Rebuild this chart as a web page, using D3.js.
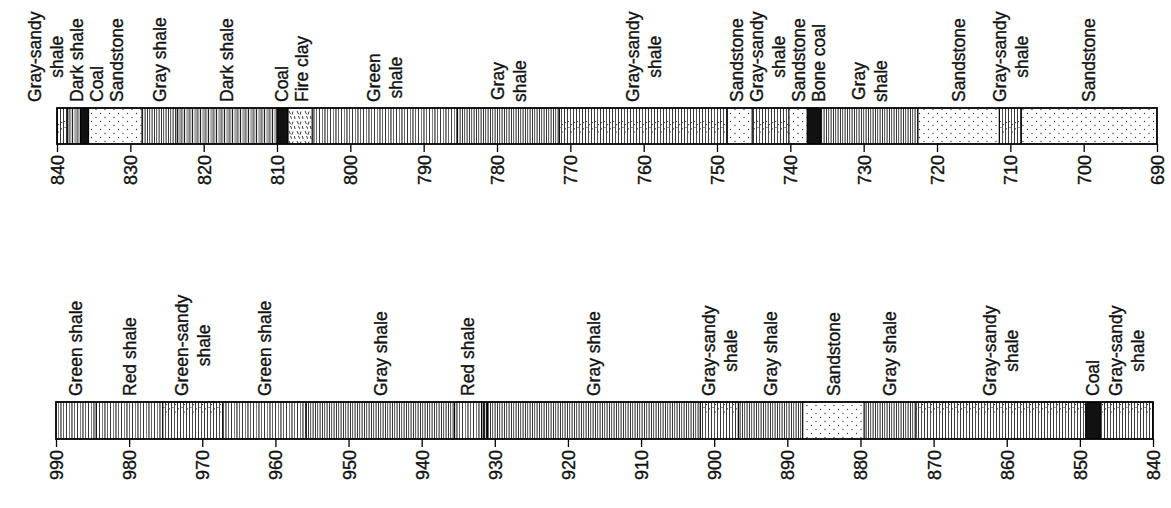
<!DOCTYPE html>
<html>
<head>
<meta charset="utf-8">
<script src="https://cdn.jsdelivr.net/npm/d3@7"></script>
<style>
  body { margin: 0; background: #fff; }
  text { font-family: "Liberation Sans", Arial, sans-serif; fill: #111; stroke: #111; stroke-width: 0.35px; }
</style>
</head>
<body>
<script>
// layer boundaries (depth, ft) and rock names, upper section 840 -> 690
let topBounds = [840, 838.6, 836.8, 835.7, 828.4, 823.6, 810, 808.5, 805.2, 785.4, 771.5,
  748.6, 745.2, 740.2, 737.7, 735.8, 722.6, 711.5, 708.5, 690];
let topRocks = ["Gray-sandy|shale", "Dark shale", "Coal", "Sandstone", "Gray shale", "Dark shale",
  "Coal", "Fire clay", "Green|shale", "Gray|shale", "Gray-sandy|shale", "Sandstone",
  "Gray-sandy|shale", "Sandstone", "Bone coal", "Gray|shale", "Sandstone", "Gray-sandy|shale", "Sandstone"];
let topTicks = d3.range(840, 689, -10);

// lower section 990 -> 840
let botBounds = [990, 984.5, 975.4, 967.2, 955.8, 935.5, 931.8, 931.0, 901.9, 896.7, 887.9,
  879.5, 872.4, 849.2, 847.2, 840];
let botRocks = ["Green shale", "Red shale", "Green-sandy|shale", "Green shale", "Gray shale",
  "Red shale", "", "Gray shale", "Gray-sandy|shale", "Gray shale", "Sandstone", "Gray shale",
  "Gray-sandy|shale", "Coal", "Gray-sandy|shale"];
let botTicks = d3.range(990, 839, -10);

let width = 1171;
let height = 508;
let lineGap = 22;   // spacing of lines in a two line label
let minGap = 20;    // closest two label columns may sit

let svg = d3.select("body").append("svg")
  .attr("width", width)
  .attr("height", height);

let defs = svg.append("defs");

// hatch patterns, one per rock kind
function linePattern(id, w, lines) {
  let p = defs.append("pattern").attr("id", id)
    .attr("patternUnits", "userSpaceOnUse")
    .attr("width", w).attr("height", 40);
  p.append("rect").attr("width", w).attr("height", 40).attr("fill", "#fff");
  lines.forEach(function(l) {
    p.append("rect").attr("x", l[0]).attr("y", 0).attr("width", l[1]).attr("height", 40).attr("fill", "#222");
  });
  return p;
}
linePattern("shale", 11, [[0, 0.9], [3.1, 0.6], [5.4, 1.1], [8.3, 0.7]]);
linePattern("grayshale", 7, [[0, 0.9], [2.3, 0.8], [4.6, 1]]);
linePattern("darkshale", 8, [[0, 1.1], [2.7, 0.7], [4.6, 1], [6.6, 0.6]]);
linePattern("band", 3, [[0, 2.2]]);

let sandy = linePattern("sandyshale", 9, [[0, 0.9], [3, 0.8], [6.1, 0.9]]);
[[1.6, 1.5], [4.6, 4.6], [7.6, 2.6], [2, 7.5], [7.5, 8.8], [4.5, 12]].forEach(function(d) {
  sandy.append("circle").attr("cx", d[0]).attr("cy", d[1]).attr("r", 0.6).attr("fill", "#222");
});

let sand = defs.append("pattern").attr("id", "sand")
  .attr("patternUnits", "userSpaceOnUse").attr("width", 9).attr("height", 8);
sand.append("rect").attr("width", 9).attr("height", 8).attr("fill", "#fff");
[[1.5, 1.5], [6, 5.5]].forEach(function(d) {
  sand.append("circle").attr("cx", d[0]).attr("cy", d[1]).attr("r", 0.65).attr("fill", "#333");
});

let clay = defs.append("pattern").attr("id", "clay")
  .attr("patternUnits", "userSpaceOnUse").attr("width", 8).attr("height", 10);
clay.append("rect").attr("width", 8).attr("height", 10).attr("fill", "#fff");
clay.append("path")
  .attr("d", "M1,1 l1.5,3.2 M5,1.5 l-1,3.2 M2.5,6 l1.2,2.8 M6.3,6 l0.8,3")
  .attr("stroke", "#222").attr("stroke-width", 0.9).attr("fill", "none");

function kindOf(name) {
  if (name === "") return "band";
  if (name.indexOf("oal") >= 0) return "coal";
  if (name === "Sandstone") return "sand";
  if (name === "Fire clay") return "clay";
  if (name.indexOf("sandy") >= 0) return "sandyshale";
  if (name === "Dark shale") return "darkshale";
  if (name.indexOf("Gray") === 0) return "grayshale";
  return "shale";
}

// place label columns near their layer centre, pushing apart where they crowd
function spread(items) {
  let off = 0;
  items.forEach(function(d, i) {
    if (i > 0) off += items[i - 1].h + d.h + minGap;
    d.off = off;
    d.v = d.c - off;
  });
  let blocks = [];
  items.forEach(function(d) {
    blocks.push({ sum: d.v, n: 1, items: [d] });
    while (blocks.length > 1 &&
      blocks[blocks.length - 2].sum / blocks[blocks.length - 2].n > blocks[blocks.length - 1].sum / blocks[blocks.length - 1].n) {
      let b = blocks.pop();
      let a = blocks[blocks.length - 1];
      a.sum += b.sum; a.n += b.n; a.items = a.items.concat(b.items);
    }
  });
  blocks.forEach(function(b) { b.items.forEach(function(d) { d.pos = b.sum / b.n + d.off; }); });
}

function drawSection(bounds, rocks, ticks, x0, x1, barY, barH) {
  let x = d3.scaleLinear().domain([bounds[0], bounds[bounds.length - 1]]).range([x0, x1]);
  let layers = rocks.map(function(r, i) {
    return { name: r, top: bounds[i], base: bounds[i + 1], kind: kindOf(r.replace("|", " ")) };
  });

  let g = svg.append("g");

  g.selectAll(".layer")
    .data(layers)
    .enter().append("rect")
      .attr("class", "layer")
      .attr("x", function(d) { return x(d.top); })
      .attr("y", barY)
      .attr("width", function(d) { return x(d.base) - x(d.top); })
      .attr("height", barH)
      .attr("fill", function(d) { return d.kind === "coal" ? "#111" : "url(#" + d.kind + ")"; });

  // contacts between layers
  g.selectAll(".contact")
    .data(bounds.slice(1, -1))
    .enter().append("line")
      .attr("x1", function(d) { return x(d); })
      .attr("x2", function(d) { return x(d); })
      .attr("y1", barY).attr("y2", barY + barH)
      .attr("stroke", "#000").attr("stroke-width", 1.2);

  g.append("rect")
    .attr("x", x0).attr("y", barY)
    .attr("width", x1 - x0).attr("height", barH)
    .attr("fill", "none").attr("stroke", "#000").attr("stroke-width", 1.8);

  // depth axis under the column
  let axis = g.append("g")
    .attr("transform", "translate(0," + (barY + barH) + ")")
    .call(d3.axisBottom(x).tickValues(ticks).tickSize(8).tickSizeOuter(0).tickFormat(d3.format("d")));
  axis.select(".domain").remove();
  axis.selectAll(".tick line").attr("stroke", "#000").attr("stroke-width", 1.3);
  axis.selectAll(".tick text")
    .attr("transform", "rotate(-90)")
    .attr("x", -11).attr("y", 0).attr("dy", "0.36em")
    .attr("text-anchor", "end")
    .style("font-family", "'Liberation Sans', Arial, sans-serif")
    .style("font-size", "18px")
    .attr("fill", "#111");

  // rock names above the column
  let labels = layers.filter(function(d) { return d.name !== ""; }).map(function(d) {
    let lines = d.name.split("|");
    return { lines: lines, c: x((d.top + d.base) / 2), h: (lines.length - 1) * lineGap / 2 };
  });
  spread(labels);

  labels.forEach(function(d) {
    let lg = g.append("g")
      .attr("transform", "translate(" + d.pos + "," + (barY - 6) + ") rotate(-90)");
    let texts = d.lines.map(function(t, j) {
      return lg.append("text")
        .attr("y", (j - (d.lines.length - 1) / 2) * lineGap)
        .attr("dy", "0.36em")
        .attr("text-anchor", "middle")
        .style("font-size", "17.5px")
        .text(t);
    });
    let maxLen = d3.max(texts, function(t) { return t.node().getComputedTextLength(); });
    texts.forEach(function(t) { t.attr("x", maxLen / 2); });
  });
}

drawSection(topBounds, topRocks, topTicks, 57, 1157, 108, 36);
drawSection(botBounds, botRocks, botTicks, 56, 1153, 402, 37);
</script>
</body>
</html>
